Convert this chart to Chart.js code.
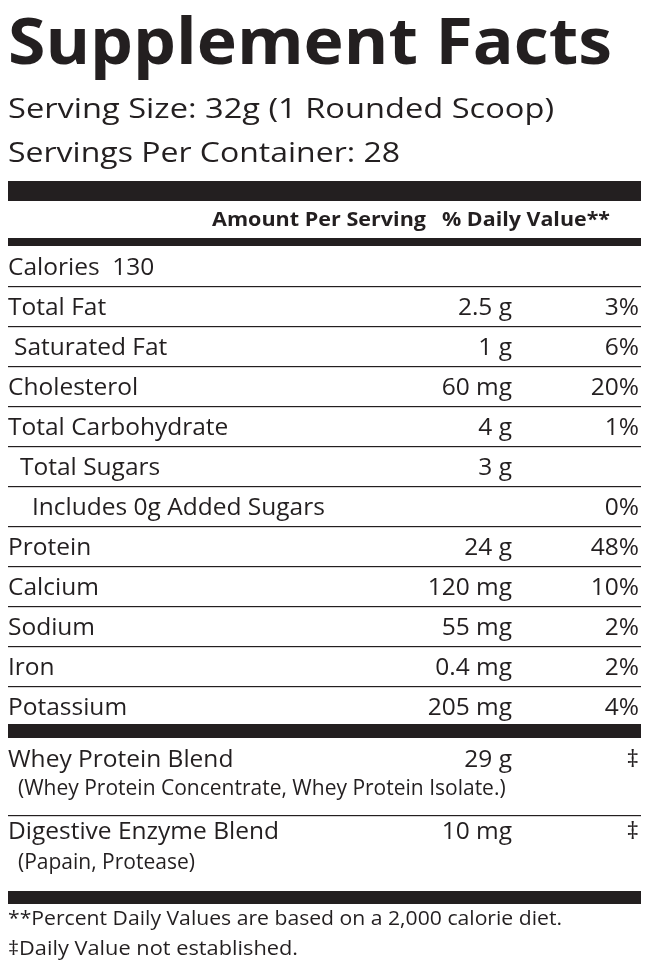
<!DOCTYPE html>
<html><head><meta charset="utf-8">
<script src="https://cdn.jsdelivr.net/npm/chart.js@4"></script>
<style>html,body{margin:0;padding:0;background:#fff}canvas{display:block}</style>
</head><body>
<canvas id="c" width="650" height="971"></canvas>
<script>
const title = "Supplement Facts";
const servingLines = ["Serving Size: 32g (1 Rounded Scoop)", "Servings Per Container: 28"];
const headerAmount = "Amount Per Serving";
const headerDV = "% Daily Value**";
const nutrients = ["Calories  130","Total Fat","Saturated Fat","Cholesterol","Total Carbohydrate","Total Sugars","Includes 0g Added Sugars","Protein","Calcium","Sodium","Iron","Potassium"];
const amounts = ["","2.5 g","1 g","60 mg","4 g","3 g","","24 g","120 mg","55 mg","0.4 mg","205 mg"];
const dailyValues = ["","3%","6%","20%","1%","","0%","48%","10%","2%","2%","4%"];
const indents = [0,0,6,0,0,12,24,0,0,0,0,0];
const blends = ["Whey Protein Blend","Digestive Enzyme Blend"];
const blendAmounts = ["29 g","10 mg"];
const blendDV = ["\u2021","\u2021"];
const blendSubs = ["(Whey Protein Concentrate, Whey Protein Isolate.)","(Papain, Protease)"];
const footnotes = ["**Percent Daily Values are based on a 2,000 calorie diet.","\u2021Daily Value not established."];

const F = '"Open Sans", sans-serif';
const labelPlugin = {
  id: 'label',
  afterDraw(chart) {
    const ctx = chart.ctx, X = chart.scales.x, Y = chart.scales.y;
    const px = v => X.getPixelForValue(v), py = v => Y.getPixelForValue(v);
    ctx.save();
    ctx.fillStyle = '#231f20';
    const bar = (y0, y1) => ctx.fillRect(px(8), py(y0), px(641)-px(8), py(y1)-py(y0));
    const line = y => ctx.fillRect(px(8), py(y), px(641)-px(8), 1.2);
    const text = (s, x, y, size, bold, align, maxW) => {
      ctx.font = (bold ? 'bold ' : '') + size + 'px ' + F;
      ctx.textAlign = align || 'left'; ctx.textBaseline = 'alphabetic';
      if (maxW) {
        const w = ctx.measureText(s).width;
        ctx.save(); ctx.translate(px(x), py(y)); ctx.scale(maxW / w, 1);
        ctx.fillText(s, 0, 0); ctx.restore();
      } else ctx.fillText(s, px(x), py(y));
    };
    text(title, 8, 64, 64, true, 'left', 604);
    text(servingLines[0], 8, 118, 28, false, 'left', 546);
    text(servingLines[1], 8, 162, 28, false, 'left', 392);
    bar(181, 201);
    text(headerAmount, 212, 226, 19, true, 'left', 214);
    text(headerDV, 442, 226, 19, true, 'left', 168);
    bar(238, 246);
    nutrients.forEach((n, i) => {
      const yc = 266 + 40 * i;
      if (i > 0) line(yc - 20);
      text(n, 8 + indents[i], yc + 9, 24.5);
      if (amounts[i]) text(amounts[i], 512, yc + 9, 24.5, false, 'right');
      if (dailyValues[i]) text(dailyValues[i], 639, yc + 9, 24.5, false, 'right');
    });
    bar(724, 738);
    const by = [758, 830], sy = [788, 862];
    blends.forEach((b, i) => {
      text(b, 8, by[i] + 9, 24.5);
      text(blendAmounts[i], 512, by[i] + 9, 24.5, false, 'right');
      text(blendDV[i], 639, by[i] + 9, 24.5, false, 'right');
      text(blendSubs[i], 18, sy[i] + 7, 21);
    });
    line(815);
    bar(891, 904);
    text(footnotes[0], 8, 925, 19.5, false, 'left', 554);
    text(footnotes[1], 8, 955, 19.5, false, 'left', 290);
    ctx.restore();
  }
};
new Chart(document.getElementById('c'), {
  type: 'scatter',
  data: { datasets: [{ data: [] }] },
  options: {
    responsive: false, animation: false, devicePixelRatio: 1,
    layout: { padding: 0 },
    plugins: { legend: { display: false }, tooltip: { enabled: false } },
    scales: {
      x: { type: 'linear', min: 0, max: 650, display: false },
      y: { type: 'linear', min: 0, max: 971, reverse: true, display: false }
    }
  },
  plugins: [labelPlugin]
});
</script>
</body></html>
